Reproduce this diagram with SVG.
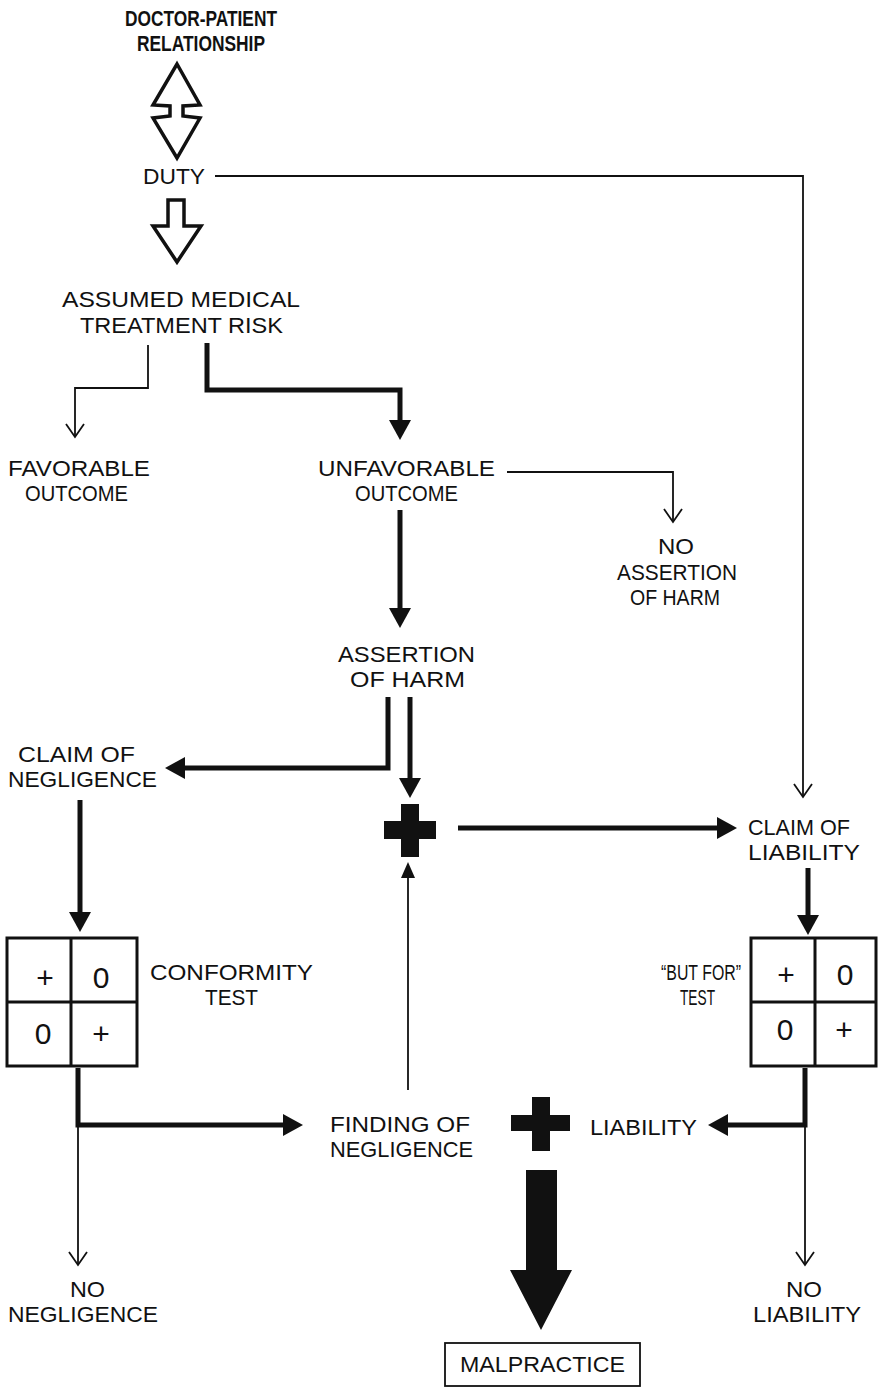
<svg xmlns="http://www.w3.org/2000/svg" width="883" height="1392" viewBox="0 0 883 1392">
<defs>
<style>
text{font-family:"Liberation Sans",Arial,sans-serif;font-size:22px;fill:#111}
.b{font-weight:bold}
.cell{font-size:30px}
.thin{fill:none;stroke:#111;stroke-width:1.8}
.thick{fill:none;stroke:#111;stroke-width:5}
.hollow{fill:#fff;stroke:#111;stroke-width:3.5;stroke-linejoin:miter}
.grid{fill:#fff;stroke:#111;stroke-width:3}
.solid{fill:#111}
</style>
<marker id="fat" markerUnits="userSpaceOnUse" viewBox="0 0 20 22" refX="10" refY="11" markerWidth="20" markerHeight="22" orient="auto">
<path d="M0,0 L20,11 L0,22 z" fill="#111"/>
</marker>
<marker id="small" markerUnits="userSpaceOnUse" viewBox="0 0 16 14" refX="8" refY="7" markerWidth="16" markerHeight="14" orient="auto">
<path d="M0,0 L16,7 L0,14 z" fill="#111"/>
</marker>
<marker id="open" markerUnits="userSpaceOnUse" viewBox="-1 -1 16 20" refX="13" refY="9" markerWidth="16" markerHeight="20" orient="auto">
<path d="M0,0 L13,9 L0,18" fill="none" stroke="#111" stroke-width="1.8"/>
</marker>
</defs>
<rect width="883" height="1392" fill="#fff"/>

<g id="connectors">
<path class="thin" d="M215,176 H803 V797" marker-end="url(#open)"/>
<path class="thin" d="M148,345 V388 H75 V437" marker-end="url(#open)"/>
<path class="thick" d="M207,343 V390 H400 V430" marker-end="url(#fat)"/>
<path class="thin" d="M507,472 H673 V522" marker-end="url(#open)"/>
<path class="thick" d="M400,510 V618" marker-end="url(#fat)"/>
<path class="thick" d="M388,697 V768 H175" marker-end="url(#fat)"/>
<path class="thick" d="M410,697 V788" marker-end="url(#fat)"/>
<path class="thick" d="M458,828 H727" marker-end="url(#fat)"/>
<path class="thick" d="M80,800 V922" marker-end="url(#fat)"/>
<path class="thick" d="M808,868 V925" marker-end="url(#fat)"/>
<path class="thin" d="M408,1090 V870" marker-end="url(#small)"/>
<path class="thick" d="M78,1068 V1125 H293" marker-end="url(#fat)"/>
<path class="thin" d="M78,1125 V1265" marker-end="url(#open)"/>
<path class="thick" d="M805,1068 V1125 H718" marker-end="url(#fat)"/>
<path class="thin" d="M805,1125 V1265" marker-end="url(#open)"/>
</g>

<g id="doctor-patient">
<text class="b" x="125" y="26" textLength="152" lengthAdjust="spacingAndGlyphs">DOCTOR-PATIENT</text>
<text class="b" x="137" y="51" textLength="128" lengthAdjust="spacingAndGlyphs">RELATIONSHIP</text>
</g>
<g id="double-arrow">
<polygon class="hollow" points="177,64 200,105 183,106 183,116 200,118 177,158 153,118 170,116 170,106 153,105"/>
</g>
<g id="duty">
<text x="143" y="184" textLength="62" lengthAdjust="spacingAndGlyphs">DUTY</text>
</g>
<g id="down-arrow">
<polygon class="hollow" points="168,200 184,200 184,226 201,226 177,262 153,226 168,226"/>
</g>
<g id="assumed-risk">
<text x="62" y="307" textLength="238" lengthAdjust="spacingAndGlyphs">ASSUMED MEDICAL</text>
<text x="80" y="333" textLength="203" lengthAdjust="spacingAndGlyphs">TREATMENT RISK</text>
</g>
<g id="favorable">
<text x="8" y="476" textLength="142" lengthAdjust="spacingAndGlyphs">FAVORABLE</text>
<text x="25" y="501" textLength="103" lengthAdjust="spacingAndGlyphs">OUTCOME</text>
</g>
<g id="unfavorable">
<text x="318" y="476" textLength="177" lengthAdjust="spacingAndGlyphs">UNFAVORABLE</text>
<text x="355" y="501" textLength="103" lengthAdjust="spacingAndGlyphs">OUTCOME</text>
</g>
<g id="no-assertion">
<text x="658" y="554" textLength="36" lengthAdjust="spacingAndGlyphs">NO</text>
<text x="617" y="580" textLength="120" lengthAdjust="spacingAndGlyphs">ASSERTION</text>
<text x="630" y="605" textLength="90" lengthAdjust="spacingAndGlyphs">OF HARM</text>
</g>
<g id="assertion">
<text x="338" y="662" textLength="137" lengthAdjust="spacingAndGlyphs">ASSERTION</text>
<text x="350" y="687" textLength="115" lengthAdjust="spacingAndGlyphs">OF HARM</text>
</g>
<g id="claim-negligence">
<text x="18" y="762" textLength="117" lengthAdjust="spacingAndGlyphs">CLAIM OF</text>
<text x="8" y="787" textLength="149" lengthAdjust="spacingAndGlyphs">NEGLIGENCE</text>
</g>
<g id="plus-1">
<path class="solid" d="M401,804 H419 V821 H436 V839 H419 V857 H401 V839 H384 V821 H401 z"/>
</g>
<g id="claim-liability">
<text x="748" y="835" textLength="102" lengthAdjust="spacingAndGlyphs">CLAIM OF</text>
<text x="748" y="860" textLength="112" lengthAdjust="spacingAndGlyphs">LIABILITY</text>
</g>
<g id="conformity-grid">
<rect class="grid" x="7" y="938" width="130" height="128"/>
<path class="grid" d="M71,938 V1066 M7,1002 H137"/>
<text class="cell" x="45" y="988" text-anchor="middle">+</text>
<text class="cell" x="101" y="988" text-anchor="middle">0</text>
<text class="cell" x="43" y="1044" text-anchor="middle">0</text>
<text class="cell" x="101" y="1044" text-anchor="middle">+</text>
</g>
<g id="conformity-test">
<text x="150" y="980" textLength="163" lengthAdjust="spacingAndGlyphs">CONFORMITY</text>
<text x="205" y="1005" textLength="53" lengthAdjust="spacingAndGlyphs">TEST</text>
</g>
<g id="but-for-grid">
<rect class="grid" x="751" y="938" width="125" height="128"/>
<path class="grid" d="M815,938 V1066 M751,1002 H876"/>
<text class="cell" x="786" y="985" text-anchor="middle">+</text>
<text class="cell" x="845" y="985" text-anchor="middle">0</text>
<text class="cell" x="785" y="1040" text-anchor="middle">0</text>
<text class="cell" x="844" y="1040" text-anchor="middle">+</text>
</g>
<g id="but-for-test">
<text x="661" y="980" textLength="80" lengthAdjust="spacingAndGlyphs">“BUT FOR”</text>
<text x="680" y="1005" textLength="35" lengthAdjust="spacingAndGlyphs">TEST</text>
</g>
<g id="finding-negligence">
<text x="330" y="1132" textLength="140" lengthAdjust="spacingAndGlyphs">FINDING OF</text>
<text x="330" y="1157" textLength="143" lengthAdjust="spacingAndGlyphs">NEGLIGENCE</text>
</g>
<g id="plus-2">
<path class="solid" d="M532,1097 H550 V1115 H570 V1131 H550 V1151 H532 V1131 H511 V1115 H532 z"/>
</g>
<g id="liability">
<text x="590" y="1135" textLength="107" lengthAdjust="spacingAndGlyphs">LIABILITY</text>
</g>
<g id="big-arrow">
<polygon class="solid" points="526,1170 557,1170 557,1270 572,1270 541,1330 510,1270 526,1270"/>
</g>
<g id="no-negligence">
<text x="70" y="1297" textLength="35" lengthAdjust="spacingAndGlyphs">NO</text>
<text x="8" y="1322" textLength="150" lengthAdjust="spacingAndGlyphs">NEGLIGENCE</text>
</g>
<g id="no-liability">
<text x="786" y="1297" textLength="36" lengthAdjust="spacingAndGlyphs">NO</text>
<text x="753" y="1322" textLength="108" lengthAdjust="spacingAndGlyphs">LIABILITY</text>
</g>
<g id="malpractice">
<rect x="445" y="1343" width="195" height="43" fill="#fff" stroke="#111" stroke-width="1.8"/>
<text x="460" y="1372" textLength="165" lengthAdjust="spacingAndGlyphs">MALPRACTICE</text>
</g>
</svg>
